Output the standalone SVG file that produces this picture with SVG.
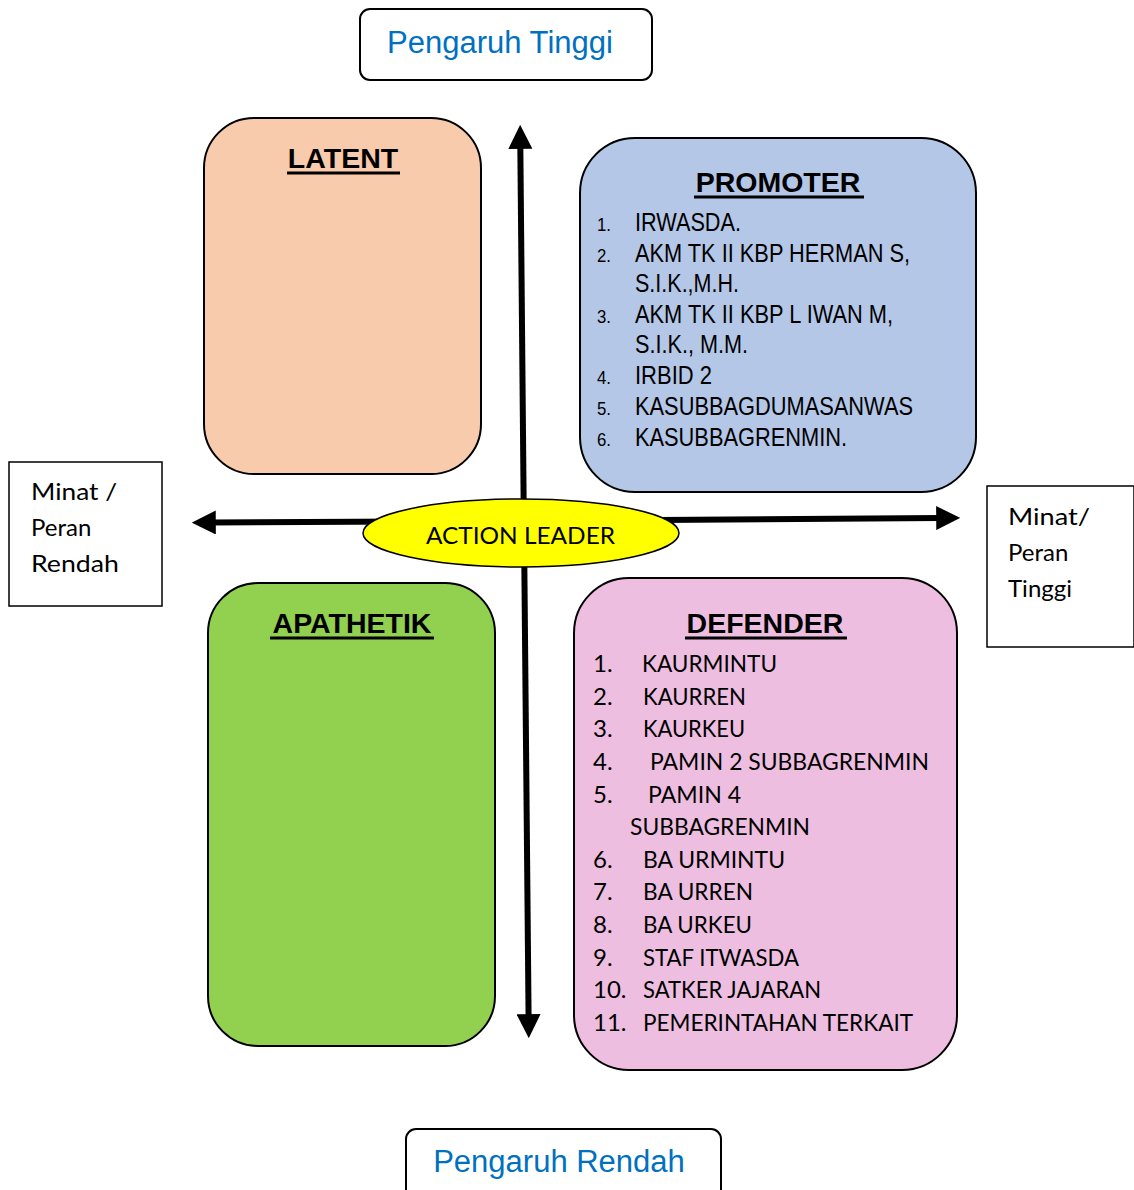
<svg xmlns="http://www.w3.org/2000/svg" width="1134" height="1190" viewBox="0 0 1134 1190">
<defs>
<style>
.box{stroke:#000;stroke-width:2}
.title{font-family:"Liberation Sans",Arial,sans-serif;font-weight:bold;font-size:28.5px;text-anchor:middle;fill:#000}
.ul{stroke:#000;stroke-width:3}
.blue{font-family:"Liberation Sans",Arial,sans-serif;font-size:31px;fill:#0070C0;text-anchor:middle}
.pn{font-family:"Liberation Sans",Arial,sans-serif;font-size:18px;fill:#000}
.pt{font-family:"Liberation Sans",Arial,sans-serif;font-size:26px;fill:#000}
.cal{font-family:Lato,"Open Sans",sans-serif;font-size:24px;fill:#000}
.axis{stroke:#000;stroke-width:6;fill:none}
</style>
<marker id="ah" viewBox="0 0 10 10" refX="2" refY="5" markerWidth="4" markerHeight="4" orient="auto" markerUnits="strokeWidth">
<path d="M0,0 L10,5 L0,10 Z" fill="#000"/>
</marker>
</defs>

<g id="connectors">
<line class="axis" x1="524" y1="540" x2="520.3" y2="144" marker-end="url(#ah)"/>
<line class="axis" x1="524" y1="530" x2="528.6" y2="1019" marker-end="url(#ah)"/>
<line class="axis" x1="520" y1="521" x2="211" y2="522.5" marker-end="url(#ah)"/>
<line class="axis" x1="520" y1="521" x2="941" y2="518" marker-end="url(#ah)"/>
</g>

<g id="pengaruh-tinggi">
<rect class="box" x="360" y="9" width="292" height="71" rx="10" fill="#fff"/>
<text class="blue" x="500" y="53">Pengaruh Tinggi</text>
</g>

<g id="latent">
<rect class="box" x="204" y="118" width="277" height="356" rx="50" fill="#F8CBAD"/>
<text class="title" x="343" y="168">LATENT</text>
<line class="ul" x1="287" y1="173" x2="400" y2="173"/>
</g>

<g id="promoter">
<rect class="box" x="580" y="138" width="396" height="354" rx="55" fill="#B4C7E7"/>
<text class="title" x="778" y="192">PROMOTER</text>
<line class="ul" x1="694" y1="197" x2="864" y2="197"/>
<text class="pn" x="597" y="231" textLength="14" lengthAdjust="spacingAndGlyphs">1.</text>
<text class="pt" x="635" y="231" textLength="106" lengthAdjust="spacingAndGlyphs">IRWASDA.</text>
<text class="pn" x="597" y="262" textLength="14" lengthAdjust="spacingAndGlyphs">2.</text>
<text class="pt" x="635" y="262" textLength="275" lengthAdjust="spacingAndGlyphs">AKM TK II KBP HERMAN S,</text>
<text class="pt" x="635" y="292" textLength="104" lengthAdjust="spacingAndGlyphs">S.I.K.,M.H.</text>
<text class="pn" x="597" y="323" textLength="14" lengthAdjust="spacingAndGlyphs">3.</text>
<text class="pt" x="635" y="323" textLength="258" lengthAdjust="spacingAndGlyphs">AKM TK II KBP L IWAN M,</text>
<text class="pt" x="635" y="353" textLength="113" lengthAdjust="spacingAndGlyphs">S.I.K., M.M.</text>
<text class="pn" x="597" y="384" textLength="14" lengthAdjust="spacingAndGlyphs">4.</text>
<text class="pt" x="635" y="384" textLength="77" lengthAdjust="spacingAndGlyphs">IRBID 2</text>
<text class="pn" x="597" y="415" textLength="14" lengthAdjust="spacingAndGlyphs">5.</text>
<text class="pt" x="635" y="415" textLength="278" lengthAdjust="spacingAndGlyphs">KASUBBAGDUMASANWAS</text>
<text class="pn" x="597" y="446" textLength="14" lengthAdjust="spacingAndGlyphs">6.</text>
<text class="pt" x="635" y="446" textLength="212" lengthAdjust="spacingAndGlyphs">KASUBBAGRENMIN.</text>
</g>

<g id="minat-rendah">
<rect x="9" y="462" width="153" height="144" fill="#fff" stroke="#000" stroke-width="1.5"/>
<text class="cal" x="31" y="500" textLength="86" lengthAdjust="spacingAndGlyphs">Minat /</text>
<text class="cal" x="31" y="536">Peran</text>
<text class="cal" x="31" y="572" textLength="88" lengthAdjust="spacingAndGlyphs">Rendah</text>
</g>

<g id="minat-tinggi">
<rect x="987" y="486" width="147" height="161" fill="#fff" stroke="#000" stroke-width="1.5"/>
<text class="cal" x="1008" y="525" textLength="82" lengthAdjust="spacingAndGlyphs">Minat/</text>
<text class="cal" x="1008" y="561">Peran</text>
<text class="cal" x="1008" y="597" textLength="64" lengthAdjust="spacingAndGlyphs">Tinggi</text>
</g>

<g id="action-leader">
<ellipse cx="521" cy="533" rx="158" ry="34" fill="#FFFF00" stroke="#000" stroke-width="1.5"/>
<text class="cal" x="426" y="544" textLength="189" lengthAdjust="spacingAndGlyphs">ACTION LEADER</text>
</g>

<g id="apathetik">
<rect class="box" x="208" y="583" width="287" height="463" rx="50" fill="#92D050"/>
<text class="title" x="352" y="633">APATHETIK</text>
<line class="ul" x1="270" y1="638" x2="434" y2="638"/>
</g>

<g id="defender">
<rect class="box" x="574" y="578" width="383" height="492" rx="55" fill="#EEBEE0"/>
<text class="title" x="765" y="633">DEFENDER</text>
<line class="ul" x1="685" y1="638" x2="847" y2="638"/>
<text class="cal" x="593" y="672">1.</text>
<text class="cal" x="642" y="672" textLength="135" lengthAdjust="spacingAndGlyphs">KAURMINTU</text>
<text class="cal" x="593" y="705">2.</text>
<text class="cal" x="643" y="705" textLength="103" lengthAdjust="spacingAndGlyphs">KAURREN</text>
<text class="cal" x="593" y="737">3.</text>
<text class="cal" x="643" y="737" textLength="102" lengthAdjust="spacingAndGlyphs">KAURKEU</text>
<text class="cal" x="593" y="770">4.</text>
<text class="cal" x="650" y="770" textLength="279" lengthAdjust="spacingAndGlyphs">PAMIN 2 SUBBAGRENMIN</text>
<text class="cal" x="593" y="803">5.</text>
<text class="cal" x="648" y="803" textLength="93" lengthAdjust="spacingAndGlyphs">PAMIN 4</text>
<text class="cal" x="630" y="835" textLength="180" lengthAdjust="spacingAndGlyphs">SUBBAGRENMIN</text>
<text class="cal" x="593" y="868">6.</text>
<text class="cal" x="643" y="868" textLength="142" lengthAdjust="spacingAndGlyphs">BA URMINTU</text>
<text class="cal" x="593" y="900">7.</text>
<text class="cal" x="643" y="900" textLength="110" lengthAdjust="spacingAndGlyphs">BA URREN</text>
<text class="cal" x="593" y="933">8.</text>
<text class="cal" x="643" y="933" textLength="109" lengthAdjust="spacingAndGlyphs">BA URKEU</text>
<text class="cal" x="593" y="966">9.</text>
<text class="cal" x="643" y="966" textLength="156" lengthAdjust="spacingAndGlyphs">STAF ITWASDA</text>
<text class="cal" x="593" y="998">10.</text>
<text class="cal" x="643" y="998" textLength="178" lengthAdjust="spacingAndGlyphs">SATKER JAJARAN</text>
<text class="cal" x="593" y="1031">11.</text>
<text class="cal" x="643" y="1031" textLength="270" lengthAdjust="spacingAndGlyphs">PEMERINTAHAN TERKAIT</text>
</g>

<g id="pengaruh-rendah">
<rect class="box" x="406" y="1129" width="315" height="80" rx="10" fill="#fff"/>
<text class="blue" x="559" y="1172">Pengaruh Rendah</text>
</g>
</svg>
